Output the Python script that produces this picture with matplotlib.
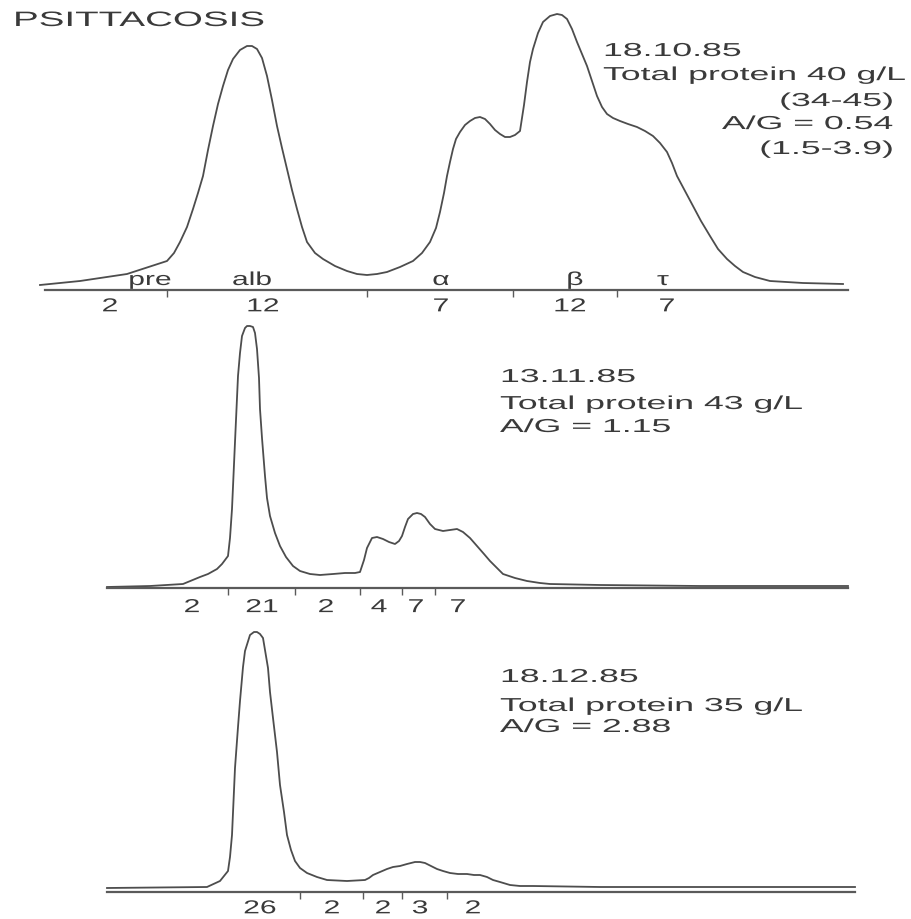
import matplotlib
matplotlib.use("Agg")
import matplotlib.pyplot as plt
from matplotlib import patheffects
from matplotlib.transforms import Affine2D

# =========================
# DENSITOMETER TRACES (position along strip, height above baseline)
# =========================
scan1_x = [40, 80, 127, 167, 174, 180, 187, 193, 198, 203, 208, 213, 218, 223, 228, 233,
           240, 247, 252, 257, 262, 267, 272, 277, 282, 287, 292, 297, 302, 307, 315, 323,
           335, 347, 357, 367, 377, 387, 400, 413, 422, 430, 436, 440, 444, 447, 450, 453,
           456, 460, 465, 470, 475, 480, 485, 490, 495, 500, 505, 510, 515, 520, 524, 527,
           530, 533, 538, 543, 550, 557, 562, 567, 572, 577, 582, 587, 592, 597, 602, 607,
           613, 620, 628, 637, 645, 653, 660, 667, 672, 677, 685, 693, 701, 710, 718, 727,
           735, 743, 755, 770, 803, 843]
scan1_h = [5, 9, 16, 29, 37, 48, 63, 81, 97, 114, 140, 164, 186, 204, 220, 231,
           240, 244, 244, 241, 232, 214, 190, 164, 142, 121, 100, 81, 63, 48, 37, 31,
           24, 19, 16, 15, 16, 18, 23, 29, 37, 48, 62, 78, 97, 114, 128, 141,
           151, 158, 165, 169, 172, 173, 171, 166, 160, 156, 153, 153, 155, 159, 185, 208,
           228, 241, 257, 268, 274, 276, 275, 271, 261, 248, 236, 224, 209, 194, 183, 176,
           172, 169, 166, 163, 159, 154, 147, 138, 127, 114, 99, 84, 69, 54, 41, 31,
           24, 18, 13, 9, 7, 6]

scan2_x = [107, 150, 183, 200, 208, 217, 222, 228, 230, 232, 235, 238, 240, 242, 245, 247,
           250, 253, 255, 257, 259, 260, 262, 265, 267, 270, 275, 280, 286, 293, 300, 310,
           320, 333, 345, 355, 360, 364, 367, 372, 377, 383, 389, 395, 399, 402, 405, 408,
           413, 417, 421, 425, 430, 435, 443, 450, 457, 463, 470, 477, 484, 490, 497, 503,
           515, 527, 540, 550, 600, 700, 848]
scan2_h = [1, 2, 4, 11, 14, 19, 24, 32, 50, 79, 146, 212, 235, 252, 260, 262,
           262, 261, 255, 239, 210, 179, 150, 112, 90, 72, 55, 42, 31, 22, 17, 14,
           13, 14, 15, 15, 16, 28, 40, 50, 51, 49, 46, 44, 47, 52, 61, 69,
           74, 75, 74, 71, 64, 59, 57, 58, 59, 56, 50, 42, 34, 27, 20, 14,
           10, 7, 5, 4, 3, 2, 2]

scan3_x = [107, 207, 220, 228, 230, 232, 235, 238, 240, 243, 245, 250, 254, 257, 260, 263,
           268, 270, 273, 277, 280, 284, 287, 291, 295, 300, 307, 317, 327, 347, 365, 369,
           373, 380, 387, 393, 400, 407, 415, 420, 425, 431, 437, 443, 450, 458, 467, 474,
           480, 487, 493, 500, 510, 520, 533, 600, 700, 855]
scan3_h = [4, 5, 11, 21, 35, 57, 124, 165, 191, 225, 241, 257, 260, 260, 258, 254,
           224, 200, 174, 140, 107, 80, 57, 42, 31, 24, 19, 15, 12, 11, 12, 14,
           17, 20, 23, 25, 26, 28, 30, 30, 29, 26, 23, 21, 19, 18, 18, 17,
           17, 15, 12, 10, 7, 6, 6, 5, 5, 5]

# fraction boundaries and percentages under each trace
p1_bounds = [167, 367, 513, 617]
p1_pos = [110, 263, 441, 570, 667]
p1_vals = ["2", "12", "7", "12", "7"]
p1_names = ["pre", "alb", "α", "β", "τ"]
p1_name_pos = [150, 252, 441, 575, 663]

p2_bounds = [228, 295, 360, 402, 435]
p2_pos = [192, 262, 326, 379, 416, 458]
p2_vals = ["2", "21", "2", "4", "7", "7"]

p3_bounds = [300, 363, 402, 447]
p3_pos = [260, 332, 383, 420, 473]
p3_vals = ["26", "2", "2", "3", "2"]

p1_notes = [("18.10.85", 603, 234, "left"),
            ("Total protein 40 g/L", 603, 210, "left"),
            ("(34-45)", 893, 184, "right"),
            ("A/G = 0.54", 893, 161, "right"),
            ("(1.5-3.9)", 893, 136, "right")]
p2_notes = [("13.11.85", 500, 206, "left"),
            ("Total protein 43 g/L", 500, 179, "left"),
            ("A/G = 1.15", 500, 156, "left")]
p3_notes = [("18.12.85", 500, 210, "left"),
            ("Total protein 35 g/L", 500, 181, "left"),
            ("A/G = 2.88", 500, 160, "left")]

LINE = "#4d4d4d"
AXIS = "#5a5a5a"
INK = "#3a3a3a"
FONT = "Liberation Sans"


# =========================
# wide lettering of the scanned page
# =========================
class StretchX(patheffects.AbstractPathEffect):
    def __init__(self, sx=1.8, anchor="left"):
        super().__init__()
        self.sx = sx
        self.anchor = anchor

    def draw_path(self, renderer, gc, tpath, affine, rgbFace=None):
        bb = tpath.get_extents(affine)
        if self.anchor == "left":
            x0 = affine.transform((0, 0))[0]
        elif self.anchor == "right":
            x0 = bb.x1
        else:
            x0 = 0.5 * (bb.x0 + bb.x1)
        st = Affine2D().translate(-x0, 0).scale(self.sx, 1).translate(x0, 0)
        renderer.draw_path(gc, tpath, affine + st, rgbFace)


def panel(rect, ylim, xs, hs, span, bounds, pos, vals, notes, pad):
    ax = fig.add_axes(rect)
    ax.plot(xs, hs, color=LINE, lw=1.3, solid_joinstyle="round")
    ax.set_xlim(0, 911)
    ax.set_ylim(*ylim)
    for s in ["top", "left", "right"]:
        ax.spines[s].set_visible(False)
    ax.spines["bottom"].set_position(("data", 0))
    ax.spines["bottom"].set_bounds(*span)
    ax.spines["bottom"].set_color(AXIS)
    ax.spines["bottom"].set_linewidth(1.6)
    ax.set_yticks([])

    ax.set_xticks(bounds)
    ax.tick_params(axis="x", which="major", labelbottom=False, length=5,
                   width=1.0, color=AXIS, direction="out")
    ax.set_xticks(pos, labels=vals, minor=True)
    ax.tick_params(axis="x", which="minor", length=0, pad=pad)
    for t in ax.get_xticklabels(minor=True):
        t.set_fontfamily(FONT)
        t.set_fontsize(13.5)
        t.set_color(INK)
        t.set_path_effects([StretchX(1.6, "center")])

    for txt, x, y, ha in notes:
        ax.text(x, y, txt, ha=ha, va="baseline", fontsize=13.5, family=FONT,
                color=INK, path_effects=[StretchX(1.9, ha)])
    return ax


fig = plt.figure(figsize=(9.11, 9.20), dpi=100)

ax1 = panel([0, 1 - 320 / 920, 1, 320 / 920], (-29, 291), scan1_x, scan1_h,
            (45, 848), p1_bounds, p1_pos, p1_vals, p1_notes, 6)
for name, x in zip(p1_names, p1_name_pos):
    ax1.text(x, 5, name, ha="center", va="baseline", fontsize=13.5, family=FONT,
             color=INK, path_effects=[StretchX(1.6, "center")])
ax1.text(13, 264, "PSITTACOSIS", ha="left", va="baseline", fontsize=15, family=FONT,
         color=INK, path_effects=[StretchX(1.85, "left")])

panel([0, 305 / 920, 1, 295 / 920], (-26, 269), scan2_x, scan2_h,
      (107, 848), p2_bounds, p2_pos, p2_vals, p2_notes, 8)

panel([0, 0, 1, 305 / 920], (-27, 278), scan3_x, scan3_h,
      (107, 855), p3_bounds, p3_pos, p3_vals, p3_notes, 6)

fig.savefig("out.png", dpi=100, facecolor="white")
